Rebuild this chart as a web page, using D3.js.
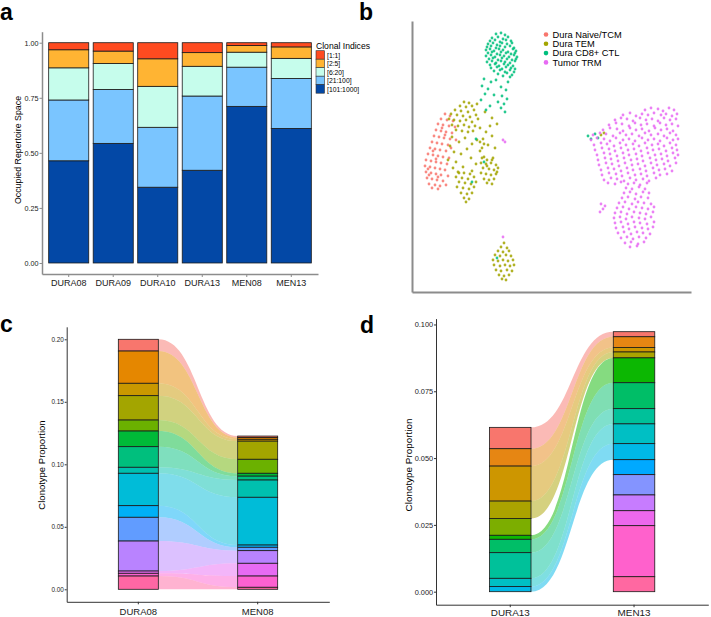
<!DOCTYPE html>
<html>
<head>
<meta charset="utf-8">
<script src="https://cdn.jsdelivr.net/npm/d3@7"></script>
<style>
  body { margin: 0; background: #fff; }
  svg { display: block; }
  text { font-family: "Liberation Sans", Arial, sans-serif; }
</style>
</head>
<body>
<div id="fig"></div>
<script>
// ---- panel a : occupied repertoire space ----
const samplesA = ['DURA08', 'DURA09', 'DURA10', 'DURA13', 'MEN08', 'MEN13'];
const indexLabels = ['[1:1]', '[2:5]', '[6:20]', '[21:100]', '[101:1000]'];
const indexColors = ['#FF4B20', '#FFB433', '#C6FDEC', '#7AC5FF', '#0348A6'];
const occ1to1     = [0.032, 0.038, 0.073, 0.045, 0.013, 0.019];
const occ2to5     = [0.082, 0.056, 0.125, 0.062, 0.030, 0.052];
const occ6to20    = [0.146, 0.118, 0.186, 0.135, 0.068, 0.091];
const occ21to100  = [0.276, 0.245, 0.272, 0.337, 0.178, 0.227];
const occ101to1000 = [0.464, 0.543, 0.344, 0.421, 0.711, 0.611];
const occTicks = [0, 0.25, 0.5, 0.75, 1];

// ---- panel b : UMAP clusters ----
const clusterNames = ['Dura Naive/TCM', 'Dura TEM', 'Dura CD8+ CTL', 'Tumor TRM'];
const clusterColors = ['#F8766D', '#A3A500', '#00BF7D', '#E76BF3'];
const naivePts = [[3.3,17.8],[3.8,17.6],[2.9,17.3],[3.5,17.2],[4.1,17.1],[2.6,16.8],[3.1,16.7],[3.7,16.6],[4.3,16.5],
  [2.4,16.2],[2.9,16.1],[3.4,16.0],[4.0,15.9],[2.2,15.6],[2.7,15.5],[3.2,15.4],[3.8,15.3],[4.4,15.2],[2.0,15.0],
  [2.5,14.9],[3.0,14.8],[3.6,14.7],[1.8,14.4],[2.3,14.3],[2.8,14.2],[3.4,14.1],[1.6,13.8],[2.1,13.7],[2.6,13.6],
  [3.1,13.5],[3.7,13.4],[1.4,13.2],[1.9,13.1],[2.4,13.0],[2.9,12.9],[3.5,12.8],[1.3,12.6],[1.8,12.5],[2.3,12.4],
  [2.8,12.3],[3.3,12.2],[1.4,12.0],[1.9,11.9],[2.4,11.8],[2.9,11.7],[3.6,11.6],[1.5,11.4],[2.0,11.3],[2.5,11.2],
  [3.1,11.1],[1.7,10.8],[2.3,10.7],[2.8,10.6],[3.4,10.7],[2.0,10.4],[2.6,10.3],[1.6,12.3],[2.1,14.1],[3.0,16.4],
  [1.7,11.7],[2.6,11.5],[3.3,15.7],[2.4,13.3],[3.9,14.4]];
const temPts = [[5.2,19.0],[5.7,18.9],[4.8,18.6],[5.4,18.5],[6.0,18.6],[4.3,18.2],[4.9,18.1],[5.6,18.0],[6.2,18.2],
  [3.9,17.8],[4.5,17.7],[5.1,17.6],[5.8,17.5],[6.4,17.7],[3.7,17.3],[4.2,17.2],[4.8,17.1],[5.4,17.2],[6.0,17.0],
  [6.6,17.3],[4.0,16.7],[4.6,16.6],[5.2,16.7],[5.7,16.5],[6.3,16.6],[4.4,16.2],[5.0,16.1],[5.6,16.0],[6.1,16.1],
  [6.5,18.8],[7.3,18.0],[8.0,17.4],[7.8,16.6],
  [6.8,16.4],[7.4,16.0],[8.0,15.6],[8.5,16.8],[7.1,15.3],[6.5,15.2],[5.3,15.4],[4.7,15.0],[6.0,14.8],[7.6,14.7],
  [8.3,14.4],[5.5,14.3],[6.8,14.1],[4.9,13.8],[7.2,13.5],[5.9,13.4],[8.0,13.2],[4.4,13.0],[6.4,12.8],[5.1,12.5],
  [7.5,12.6],[6.0,12.1],[4.7,11.9],[8.5,12.0],[6.8,15.0],[7.2,14.8],[7.0,14.4],
  [7.0,13.4],[7.5,13.2],[8.1,13.4],[6.9,12.9],[7.4,12.8],[7.9,12.9],[8.4,12.7],[7.1,12.4],[7.7,12.3],[8.2,12.2],
  [8.6,12.4],[6.9,11.9],[7.4,11.8],[7.9,11.7],[8.4,11.8],[7.2,11.3],[7.7,11.2],[8.2,11.3],[7.5,10.9],[8.0,10.8],
  [4.6,12.0],[5.2,11.9],[5.8,11.8],[4.4,11.5],[5.0,11.4],[5.6,11.3],[6.2,11.5],[4.7,11.0],[5.3,10.9],[5.9,10.8],
  [6.4,11.0],[4.5,10.5],[5.1,10.4],[5.7,10.3],[6.2,10.5],[4.9,9.9],[5.5,9.8],[6.0,9.9],[5.2,9.4],[5.7,9.3],[5.4,9.0],
  [4.0,15.5],[3.8,14.6],[4.2,14.0],[3.6,13.2],[4.1,12.4],
  [9.2,4.9],[8.9,4.5],[9.5,4.4],[8.6,4.1],[9.1,4.0],[9.7,4.1],[8.3,3.7],[8.8,3.6],[9.4,3.7],[9.9,3.6],[8.1,3.2],
  [8.6,3.1],[9.1,3.2],[9.6,3.1],[10.1,3.2],[8.2,2.7],[8.8,2.6],[9.3,2.7],[9.8,2.6],[10.2,2.7],[8.4,2.2],[8.9,2.1],
  [9.5,2.2],[10.0,2.1],[8.7,1.7],[9.2,1.6],[9.7,1.7],[9.0,1.3],[9.4,1.2],[18.9,15.7],[19.2,15.9]];
const ctlPts = [[8.4,25.8],[8.9,25.9],[9.3,25.7],[8.0,25.4],[8.6,25.5],[9.1,25.3],[9.6,25.5],[7.8,25.1],[8.3,25.2],
  [8.8,25.0],[9.4,25.2],[9.9,25.1],[7.6,24.8],[8.1,24.9],[8.5,24.7],[9.0,24.9],[9.5,24.8],[10.0,24.9],[7.5,24.5],
  [7.9,24.6],[8.4,24.4],[8.8,24.6],[9.3,24.5],[9.8,24.6],[10.2,24.4],[7.4,24.2],[7.8,24.3],[8.2,24.1],[8.7,24.3],
  [9.1,24.2],[9.6,24.0],[10.1,24.3],[10.4,24.1],[7.6,23.9],[8.0,24.0],[8.5,23.8],[8.9,24.0],[9.4,23.9],[9.9,23.8],
  [10.3,23.9],[7.4,23.6],[7.9,23.7],[8.3,23.5],[8.8,23.7],[9.2,23.6],[9.7,23.5],[10.2,23.7],[10.5,23.5],[7.7,23.3],
  [8.1,23.4],[8.6,23.2],[9.0,23.4],[9.5,23.3],[10.0,23.2],[10.4,23.3],[7.5,23.0],[8.0,23.1],[8.4,22.9],[8.9,23.1],
  [9.3,23.0],[9.8,22.9],[10.3,23.1],[7.8,22.7],[8.3,22.8],[8.7,22.6],[9.2,22.8],[9.6,22.7],[10.1,22.6],[7.9,22.4],
  [8.5,22.5],[9.0,22.3],[9.4,22.5],[9.9,22.4],[10.3,22.3],[8.2,22.1],[8.8,22.2],[9.3,22.0],[9.8,22.2],[10.2,22.0],
  [8.6,21.8],[9.5,21.9],[10.0,21.7],[9.1,21.6],[9.8,21.5],
  [7.2,21.3],[7.9,21.0],[8.4,21.2],[9.6,21.0],[7.0,20.6],[7.6,20.3],[8.9,20.5],[9.4,20.2],[7.3,19.8],[8.2,19.7],
  [9.0,19.6],[9.5,19.3],[6.9,19.2],[8.6,19.0],[9.2,18.8],[7.8,18.6],[8.9,18.4],[9.3,18.0],[7.4,18.2],
  [6.4,15.3],[7.2,13.0],[6.0,11.0],[8.5,3.4],[17.6,15.6],[17.9,15.3],[18.3,15.8],[18.6,15.4]];
const trmPts = [[23.3,18.2],[23.9,18.4],[24.6,18.3],[25.1,18.1],[25.7,18.4],[26.2,18.2],
  [21.1,17.7],[21.8,17.9],[22.4,17.6],[23.0,17.8],[23.6,17.7],[24.2,17.9],[24.9,17.7],[25.4,17.8],[26.0,17.6],[26.5,17.8],
  [20.3,17.2],[20.9,17.4],[21.5,17.3],[22.1,17.1],[22.8,17.4],[23.4,17.2],[24.0,17.3],[24.6,17.1],[25.2,17.4],[25.8,17.2],[26.4,17.3],
  [19.7,16.7],[20.4,16.9],[21.0,16.8],[21.7,16.6],[22.3,16.9],[22.9,16.7],[23.5,16.8],[24.2,16.6],[24.8,16.9],[25.4,16.7],[26.0,16.8],[26.6,16.6],
  [19.1,16.2],[19.8,16.4],[20.5,16.3],[21.1,16.1],[21.8,16.4],[22.4,16.2],[23.0,16.3],[23.7,16.1],[24.3,16.4],[24.9,16.2],[25.5,16.3],[26.1,16.1],
  [18.1,15.7],[18.8,15.9],[19.4,15.8],[20.1,15.6],[20.8,15.9],[21.4,15.7],[22.0,15.8],[22.7,15.6],[23.3,15.9],[23.9,15.7],[24.6,15.8],[25.2,15.6],[25.8,15.9],[26.4,15.7],
  [17.9,15.2],[18.5,15.4],[19.2,15.3],[19.8,15.1],[20.4,15.4],[21.1,15.2],[21.7,15.3],[22.3,15.1],[23.0,15.4],[23.6,15.2],[24.2,15.3],[24.8,15.1],[25.5,15.4],[26.1,15.2],[26.6,15.3],
  [18.2,14.7],[18.9,14.9],[19.5,14.8],[20.2,14.6],[20.8,14.9],[21.4,14.7],[22.1,14.8],[22.7,14.6],[23.3,14.9],[24.0,14.7],[24.6,14.8],[25.2,14.6],[25.8,14.9],[26.4,14.7],
  [18.3,14.2],[19.0,14.4],[19.7,14.3],[20.3,14.1],[20.9,14.4],[21.6,14.2],[22.2,14.3],[22.9,14.1],[23.5,14.4],[24.1,14.2],[24.7,14.3],[25.4,14.1],[26.0,14.4],[26.5,14.2],
  [18.5,13.7],[19.2,13.9],[19.8,13.8],[20.5,13.6],[21.1,13.9],[21.7,13.7],[22.4,13.8],[23.0,13.6],[23.6,13.9],[24.3,13.7],[24.9,13.8],[25.5,13.6],[26.1,13.9],[26.6,13.7],
  [18.6,13.2],[19.3,13.4],[19.9,13.3],[20.6,13.1],[21.2,13.4],[21.9,13.2],[22.5,13.3],[23.1,13.1],[23.8,13.4],[24.4,13.2],[25.0,13.3],[25.6,13.1],[26.3,13.4],
  [18.7,12.7],[19.4,12.9],[20.0,12.8],[20.7,12.6],[21.3,12.9],[22.0,12.7],[22.6,12.8],[23.3,12.6],[23.9,12.9],[24.5,12.7],[25.2,12.8],[25.8,12.6],[26.4,12.9],
  [18.9,12.2],[19.6,12.4],[20.2,12.3],[20.9,12.1],[21.5,12.4],[22.1,12.2],[22.8,12.3],[23.4,12.1],[24.1,12.4],[24.7,12.2],[25.3,12.3],[26.0,12.1],
  [19.0,11.7],[19.7,11.9],[20.4,11.8],[21.0,11.6],[21.6,11.9],[22.3,11.7],[22.9,11.8],[23.5,11.6],[24.2,11.9],[24.8,11.7],[25.5,11.8],
  [19.2,11.2],[19.9,11.4],[20.5,11.3],[21.2,11.1],[21.8,11.4],[22.4,11.2],[23.1,11.3],[23.7,11.1],[24.4,11.4],
  [19.6,10.9],[20.3,10.8],[20.9,11.0],[21.6,10.8],[22.2,10.9],[22.8,10.7],[23.5,10.9],
  [21.4,10.4],[22.0,10.3],[22.7,10.5],[23.3,10.3],[21.2,9.9],[21.8,10.0],[22.4,9.8],[23.1,10.0],[23.7,9.9],
  [21.0,9.4],[21.6,9.5],[22.3,9.3],[22.9,9.5],[23.6,9.4],[20.7,8.9],[21.3,9.0],[22.0,8.8],[22.6,9.0],[23.2,8.9],[23.9,8.8],
  [20.5,8.4],[21.1,8.5],[21.7,8.3],[22.4,8.5],[23.0,8.4],[23.6,8.3],[24.2,8.5],[20.3,7.9],[20.9,8.0],[21.5,7.8],[22.2,8.0],
  [22.8,7.9],[23.4,7.8],[24.1,8.0],[20.2,7.4],[20.8,7.5],[21.4,7.3],[22.0,7.5],[22.7,7.4],[23.3,7.3],[23.9,7.5],
  [20.3,6.9],[20.9,7.0],[21.6,6.8],[22.2,7.0],[22.8,6.9],[23.5,6.8],[24.2,7.0],[20.4,6.4],[21.1,6.5],[21.7,6.3],[22.3,6.5],
  [23.0,6.4],[23.6,6.3],[24.1,6.5],[20.6,5.9],[21.2,6.0],[21.9,5.8],[22.5,6.0],[23.1,5.9],[23.8,5.8],
  [20.9,5.4],[21.5,5.5],[22.1,5.3],[22.7,5.5],[23.4,5.4],[21.3,4.9],[21.9,5.0],[22.6,4.8],[23.2,5.0],[21.8,4.5],[22.5,4.6],
  [18.9,8.8],[19.1,8.3],[18.8,8.0],[19.3,8.6],[9.1,15.2],[9.1,5.5],[9.3,15.0]];

// ---- panels c, d : clonotype proportions (top of stack first) ----
const hue15 = ['#F8766D','#E58700','#C99800','#A3A500','#6BB100','#00BA38','#00BF7D','#00C0AF',
  '#00BCD8','#00B0F6','#619CFF','#B983FF','#E76BF3','#FD61D1','#FF67A4'];
const hue16 = ['#F8766D','#E68613','#CD9600','#ABA300','#7CAE00','#0CB702','#00BE67','#00C19A',
  '#00BFC4','#00B8E7','#00A9FF','#8494FF','#C77CFF','#ED68ED','#FF61CC','#FF68A1'];
const dura08Prop = [0.0094,0.0258,0.0099,0.0195,0.0088,0.0125,0.0165,0.0048,0.0259,0.0093,0.0190,0.0240,0.0018,0.0022,0.0106];
const men08Prop  = [0.0012,0.0014,0.0015,0.0145,0.0112,0.0023,0.0031,0.0138,0.0382,0.0018,0.0027,0.0101,0.0102,0.0090,0.0016];
const dura13Prop = [0.0080,0.0065,0.0131,0.0065,0.0063,0.0015,0.0050,0.0096,0.0031,0.0019,0,0,0,0,0,0];
const men13Prop  = [0.0019,0.0040,0.0017,0.0022,0,0.0093,0.0097,0.0057,0.0074,0.0060,0.0056,0.0076,0.0059,0.0056,0.0191,0.0056];
const ticksC = [0, 0.05, 0.10, 0.15, 0.20];
const ticksD = [0, 0.025, 0.05, 0.075, 0.10];

const svg = d3.select('#fig').append('svg')
  .attr('width', 711).attr('height', 617);
svg.append('rect').attr('width', 711).attr('height', 617).attr('fill', '#fff');

function panelLetter(t, x, y) {
  svg.append('text').attr('x', x).attr('y', y).text(t)
    .style('font-size', '23px').style('font-weight', 'bold').attr('fill', '#000');
}

// ================= panel a =================
const xA = d3.scaleBand().domain(samplesA).range([42, 318]).paddingInner(0.1).paddingOuter(0.15);
const yA = d3.scaleLinear().domain([-0.05, 1.05]).range([274, 31.7]);
const rowsA = samplesA.map((s, i) => ({
  sample: s, '[1:1]': occ1to1[i], '[2:5]': occ2to5[i], '[6:20]': occ6to20[i],
  '[21:100]': occ21to100[i], '[101:1000]': occ101to1000[i]
}));
const seriesA = d3.stack().keys(indexLabels.slice().reverse())(rowsA);
const colorA = d3.scaleOrdinal().domain(indexLabels).range(indexColors);

svg.append('g').selectAll('g').data(seriesA).join('g')
  .attr('fill', d => colorA(d.key))
  .selectAll('rect').data(d => d).join('rect')
  .attr('x', d => xA(d.data.sample)).attr('width', xA.bandwidth())
  .attr('y', d => yA(d[1])).attr('height', d => yA(d[0]) - yA(d[1]))
  .attr('stroke', '#1a1a1a').attr('stroke-width', 0.8);

const axAy = svg.append('g').attr('transform', 'translate(42,0)')
  .call(d3.axisLeft(yA).tickValues(occTicks).tickFormat(d3.format('.2f')).tickSize(2.5).tickPadding(1).tickSizeOuter(0));
const axAx = svg.append('g').attr('transform', 'translate(0,274)')
  .call(d3.axisBottom(xA).tickSize(3).tickPadding(2.4).tickSizeOuter(0));
[axAy, axAx].forEach(g => {
  g.select('.domain').attr('stroke', '#8c8c8c').attr('stroke-width', 1.5);
  g.selectAll('.tick line').attr('stroke', '#8c8c8c');
  g.selectAll('text').attr('fill', '#1a1a1a').style('font-family', '"Liberation Sans", Arial, sans-serif');
});
axAy.selectAll('text').style('font-size', '7.2px');
axAx.selectAll('text').style('font-size', '9px');

svg.append('text').attr('transform', 'translate(21,150) rotate(-90)')
  .attr('text-anchor', 'middle').style('font-size', '8.8px').text('Occupied Repertoire Space');

// legend a
svg.append('text').attr('x', 316).attr('y', 49.2).style('font-size', '8.6px').text('Clonal Indices');
indexLabels.forEach((l, i) => {
  svg.append('rect').attr('x', 316).attr('y', 50.7 + i * 8.5).attr('width', 8.5).attr('height', 8.5)
    .attr('fill', indexColors[i]).attr('stroke', '#333').attr('stroke-width', 0.6);
  svg.append('text').attr('x', 327).attr('y', 50.7 + i * 8.5 + 6.8)
    .style('font-size', '6.8px').text(l);
});
panelLetter('a', 0, 20);

// ================= panel b =================
const xB = d3.scaleLinear().domain([0, 27.9]).range([412, 691]);
const yB = d3.scaleLinear().domain([0, 27.1]).range([292, 21]);
const clusters = [naivePts, temPts, ctlPts, trmPts];
clusters.forEach((pts, c) => {
  svg.append('g').selectAll('circle').data(pts).join('circle')
    .attr('cx', d => xB(d[0])).attr('cy', d => yB(d[1])).attr('r', 1.4)
    .attr('fill', clusterColors[c]).attr('opacity', 0.85);
});
const axBy = svg.append('g').attr('transform', 'translate(412,0)')
  .call(d3.axisLeft(yB).tickValues([]).tickSizeOuter(0));
const axBx = svg.append('g').attr('transform', 'translate(0,292)')
  .call(d3.axisBottom(xB).tickValues([]).tickSizeOuter(0));
[axBy, axBx].forEach(g => g.select('.domain').attr('stroke', '#8c8c8c').attr('stroke-width', 2));

clusterNames.forEach((n, i) => {
  const y = 34.5 + i * 9.3;
  svg.append('circle').attr('cx', 546).attr('cy', y).attr('r', 2.3).attr('fill', clusterColors[i]);
  svg.append('text').attr('x', 552.5).attr('y', y + 3.3).style('font-size', '9.3px').text(n);
});
panelLetter('b', 359, 20);

// ================= panels c, d : alluvial =================
function alluvial(opts) {
  const { samples, props, colors, xRange, yDomain, yRange, ticks, fmt, tickFont, labelFont, titleX, labelPad } = opts;
  const n = colors.length;
  const keys = d3.range(n).map(String);
  const rows = samples.map((s, j) => {
    const r = { sample: s };
    keys.forEach((k, i) => { r[k] = props[j][i]; });
    return r;
  });
  const series = d3.stack().keys(keys).order(d3.stackOrderReverse)(rows);
  const x = d3.scaleBand().domain(samples).range(xRange).paddingInner(0.665).paddingOuter(0.4325);
  const y = d3.scaleLinear().domain(yDomain).range(yRange);
  const g = svg.append('g');

  // ribbons
  const xa = x(samples[0]) + x.bandwidth();
  const xb = x(samples[1]);
  const xm = (xa + xb) / 2;
  series.forEach(s => {
    const a = s[0], b = s[1];
    if (a[1] - a[0] <= 0 || b[1] - b[0] <= 0) return;
    const p = d3.path();
    p.moveTo(xa, y(a[1]));
    p.bezierCurveTo(xm, y(a[1]), xm, y(b[1]), xb, y(b[1]));
    p.lineTo(xb, y(b[0]));
    p.bezierCurveTo(xm, y(b[0]), xm, y(a[0]), xa, y(a[0]));
    p.closePath();
    g.append('path').attr('d', p.toString()).attr('fill', colors[+s.key]).attr('fill-opacity', 0.5);
  });

  // strata
  series.forEach(s => {
    g.append('g').selectAll('rect').data(s.filter(d => d[1] - d[0] > 0)).join('rect')
      .attr('x', d => x(d.data.sample)).attr('width', x.bandwidth())
      .attr('y', d => y(d[1])).attr('height', d => y(d[0]) - y(d[1]))
      .attr('fill', colors[+s.key]).attr('stroke', '#1a1a1a').attr('stroke-width', 0.8);
  });

  const ay = g.append('g').attr('transform', `translate(${xRange[0]},0)`)
    .call(d3.axisLeft(y).tickValues(ticks).tickFormat(d3.format(fmt)).tickSize(2).tickPadding(0.8).tickSizeOuter(0));
  const ax = g.append('g').attr('transform', `translate(0,${yRange[0]})`)
    .call(d3.axisBottom(x).tickSize(2.5).tickPadding(labelPad).tickSizeOuter(0));
  [ay, ax].forEach(a => {
    a.select('.domain').attr('stroke', '#333').attr('stroke-width', 1);
    a.selectAll('.tick line').attr('stroke', '#333');
    a.selectAll('text').attr('fill', '#1a1a1a').style('font-family', '"Liberation Sans", Arial, sans-serif');
  });
  ay.selectAll('text').style('font-size', tickFont + 'px');
  ax.selectAll('text').style('font-size', labelFont + 'px');
  g.append('text').attr('transform', `translate(${titleX},465) rotate(-90)`)
    .attr('text-anchor', 'middle').style('font-size', labelFont + 'px').text('Clonotype Proportion');
}

alluvial({
  samples: ['DURA08', 'MEN08'], props: [dura08Prop, men08Prop], colors: hue15,
  xRange: [66.7, 329.3], yDomain: [-0.01, 0.21], yRange: [601.8, 326.8],
  ticks: ticksC, fmt: '.2f', tickFont: 6.4, labelFont: 9.5, titleX: 45.2, labelPad: 4.2
});
alluvial({
  samples: ['DURA13', 'MEN13'], props: [dura13Prop, men13Prop], colors: hue16,
  xRange: [436, 708.3], yDomain: [-0.00487, 0.1022], yRange: [604.7, 318.6],
  ticks: ticksD, fmt: '.3f', tickFont: 7.4, labelFont: 9.9, titleX: 412, labelPad: 2.2
});
panelLetter('c', 0, 332);
panelLetter('d', 360, 333);
</script>
</body>
</html>
